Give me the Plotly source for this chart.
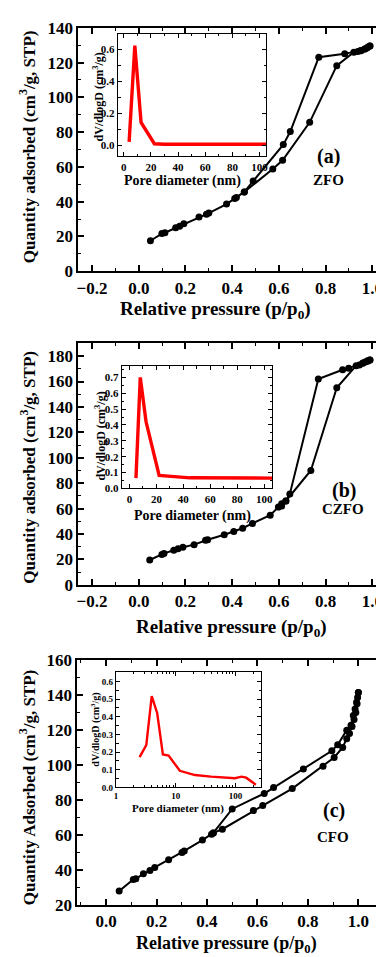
import plotly.graph_objects as go

# ---------------- data ----------------
# (a) ZFO
a_ads_x = [0.050, 0.099, 0.112, 0.158, 0.175, 0.193, 0.258, 0.290, 0.300, 0.376, 0.411, 0.418, 0.452,
           0.574, 0.616, 0.732, 0.848, 0.921, 0.938, 0.952, 0.966, 0.977, 0.990]
a_ads_y = [17.5, 21.6, 22.1, 24.9, 25.9, 27.2, 31.1, 32.8, 33.4, 38.6, 41.8, 42.4, 45.6,
           58.7, 63.8, 85.6, 118.2, 125.9, 126.3, 126.8, 127.6, 128.4, 129.5]
a_des_x = [0.990, 0.982, 0.970, 0.950, 0.882, 0.771, 0.649, 0.619, 0.490, 0.452]
a_des_y = [129.5, 129.0, 128.0, 127.0, 125.0, 123.1, 80.3, 72.8, 51.8, 45.6]
a_psd_x = [3.9, 8.1, 12.7, 22.5, 30, 105]
a_psd_y = [0.02, 0.625, 0.142, 0.008, 0.005, 0.005]

# (b) CZFO
b_ads_x = [0.047, 0.099, 0.108, 0.150, 0.168, 0.189, 0.237, 0.286, 0.295, 0.366, 0.407, 0.445, 0.487,
           0.563, 0.598, 0.612, 0.630, 0.737, 0.848, 0.931, 0.945, 0.959, 0.970, 0.980, 0.990]
b_ads_y = [19.5, 23.9, 24.7, 27.2, 28.3, 29.6, 31.6, 35.0, 35.5, 39.4, 41.9, 44.5, 48.3,
           54.8, 61.2, 63.7, 66.0, 90.0, 155.1, 172.5, 173.0, 174.4, 175.4, 176.4, 177.0]
b_des_x = [0.990, 0.980, 0.960, 0.899, 0.873, 0.769, 0.647, 0.630, 0.612]
b_des_y = [177.0, 176.0, 174.5, 170.5, 169.2, 162.0, 71.5, 66.0, 62.0]
b_psd_x = [4.8, 8.0, 12.3, 22.0, 31.0, 45.0, 106]
b_psd_y = [0.065, 0.70, 0.42, 0.082, 0.076, 0.067, 0.065]

# (c) CFO
c_ads_x = [0.052, 0.108, 0.118, 0.148, 0.174, 0.193, 0.248, 0.301, 0.310, 0.382, 0.418, 0.425, 0.461,
           0.584, 0.621, 0.738, 0.860, 0.904, 0.938, 0.954, 0.965, 0.975, 0.983, 0.990, 0.995, 1.000]
c_ads_y = [28.0, 34.6, 35.0, 37.8, 39.7, 41.5, 45.9, 50.0, 50.9, 57.1, 60.5, 61.2, 63.3,
           74.0, 76.8, 86.5, 99.3, 104.3, 110.0, 115.0, 118.0, 122.0, 126.0, 130.0, 135.0, 141.4]
c_des_x = [1.000, 0.997, 0.993, 0.987, 0.980, 0.971, 0.954, 0.918, 0.895, 0.782, 0.664, 0.627, 0.500, 0.425]
c_des_y = [141.4, 138.6, 135.8, 132.0, 128.3, 122.7, 119.9, 111.5, 108.1, 97.7, 87.1, 83.7, 74.9, 61.2]
c_psd_x = [2.49, 3.22, 3.97, 4.9, 6.1, 7.6, 11.7, 20.9, 38.9, 63, 97.5, 125, 150, 218]
c_psd_y = [0.171, 0.239, 0.517, 0.42, 0.186, 0.18, 0.094, 0.07, 0.061, 0.057, 0.052, 0.061, 0.055, 0.015]

# ---------------- figure ----------------
W, H = 384, 957
FONT = "Liberation Serif"

def px_x(p):
    return p / W

def px_y(p):
    return 1 - p / H

fig = go.Figure()

def iso(xa, ya, x, y):
    fig.add_trace(go.Scatter(x=x, y=y, xaxis=xa, yaxis=ya, mode="lines+markers",
                             line=dict(color="black", width=2),
                             marker=dict(color="black", size=7), showlegend=False))

def psd(xa, ya, x, y, w):
    fig.add_trace(go.Scatter(x=x, y=y, xaxis=xa, yaxis=ya, mode="lines",
                             line=dict(color="#ff0000", width=w), showlegend=False))

iso("x", "y", a_ads_x, a_ads_y)
iso("x", "y", a_des_x, a_des_y)
psd("x2", "y2", a_psd_x, a_psd_y, 3.4)
iso("x3", "y3", b_ads_x, b_ads_y)
iso("x3", "y3", b_des_x, b_des_y)
psd("x4", "y4", b_psd_x, b_psd_y, 3.4)
iso("x5", "y5", c_ads_x, c_ads_y)
iso("x5", "y5", c_des_x, c_des_y)
psd("x6", "y6", c_psd_x, c_psd_y, 2.4)

def tf(size):
    return dict(family=FONT, size=size, color="black", weight="bold")

def main_axis(domain, rng, dtick, minor_dtick, anchor, fmt=None):
    d = dict(domain=domain, range=rng, anchor=anchor, showline=True, linewidth=2, linecolor="black",
             mirror="allticks", ticks="inside", ticklen=6, tickwidth=1.5, tickcolor="black",
             dtick=dtick, tick0=0, showgrid=False, zeroline=False, tickfont=tf(17),
             ticklabeloverflow="allow",
             minor=dict(ticks="inside", ticklen=3, tickwidth=1.2, dtick=minor_dtick, tickcolor="black"))
    if fmt:
        d["tickformat"] = fmt
    return d

def inset_axis(domain, rng, dtick, minor_dtick, anchor, size, fmt=None, log=False):
    d = dict(domain=domain, range=rng, anchor=anchor, showline=True, linewidth=1.3, linecolor="black",
             mirror="allticks", ticks="inside", ticklen=4, tickwidth=1, tickcolor="black",
             showgrid=False, zeroline=False, tickfont=tf(size))
    if log:
        d["type"] = "log"
        d["dtick"] = 1
        d["minor"] = dict(ticks="inside", ticklen=2.5, tickwidth=0.8, tickcolor="black")
    else:
        d["dtick"] = dtick
        d["tick0"] = 0
        d["minor"] = dict(ticks="inside", ticklen=2.5, tickwidth=0.8, dtick=minor_dtick, tickcolor="black")
    if fmt:
        d["tickformat"] = fmt
    return d

layout = dict(width=W, height=H, margin=dict(l=0, r=0, t=0, b=0),
              paper_bgcolor="white", plot_bgcolor="white", showlegend=False)

# panel (a)
layout["xaxis"] = main_axis([px_x(69), px_x(380)], [-0.259, 1.059], 0.2, 0.1, "y", fmt=".1f")
layout["yaxis"] = main_axis([px_y(259.3), px_y(11)], [0, 140], 20, 10, "x")
layout["xaxis2"] = inset_axis([px_x(109), px_x(259)], [-4.4, 105], 20, 10, "y2", 11)
layout["yaxis2"] = inset_axis([px_y(142), px_y(17)], [-0.07, 0.70], 0.2, 0.1, "x2", 11, fmt=".1f")
# panel (b)
layout["xaxis3"] = main_axis([px_x(69), px_x(380)], [-0.259, 1.059], 0.2, 0.1, "y3", fmt=".1f")
layout["yaxis3"] = main_axis([px_y(579.3), px_y(333)], [0, 190], 20, 10, "x3")
layout["xaxis4"] = inset_axis([px_x(113), px_x(265)], [-5.7, 106], 20, 10, "y4", 11)
layout["yaxis4"] = inset_axis([px_y(481), px_y(356)], [0, 0.772], 0.1, 0.05, "x4", 11, fmt=".1f")
# panel (c)
layout["xaxis5"] = main_axis([px_x(68), px_x(377)], [-0.114, 1.098], 0.2, 0.1, "y5", fmt=".1f")
layout["yaxis5"] = main_axis([px_y(906), px_y(656)], [20, 160], 20, 10, "x5")
layout["xaxis6"] = inset_axis([px_x(107), px_x(254)], [0, 2.43], None, None, "y6", 9, log=True)
layout["yaxis6"] = inset_axis([px_y(786), px_y(668)], [0, 0.655], 0.1, 0.05, "x6", 9, fmt=".1f")

fig.update_layout(**layout)

def ann(text, x, y, size, angle=0):
    fig.add_annotation(text=text, x=px_x(x), y=px_y(y), xref="paper", yref="paper",
                       showarrow=False, textangle=angle, xanchor="center", yanchor="middle",
                       font=dict(family=FONT, size=size, color="black"))

# main y titles
ann("<b>Quantity adsorbed (cm<sup>3</sup>/g, STP)</b>", 18, 132, 17, -90)
ann("<b>Quantity adsorbed (cm<sup>3</sup>/g, STP)</b>", 18, 459, 17, -90)
ann("<b>Quantity Adsorbed (cm<sup>3</sup>/g, STP)</b>", 18, 786, 17, -90)
# main x titles
ann("<b>Relative pressure (p/p<sub>0</sub>)</b>", 208, 299, 19)
ann("<b>Relative pressure (p/p<sub>0</sub>)</b>", 224, 623, 19)
ann("<b>Relative pressure (p/p<sub>0</sub>)</b>", 219, 946, 18)
# inset titles
ann("<b>Pore diameter (nm)</b>", 174, 167, 14)
ann("<b>Pore diameter (nm)</b>", 184, 509, 14)
ann("<b>Pore diameter (nm)</b>", 170, 808, 11)
ann("<b>dV/dlogD (cm<sup>3</sup>/g)</b>", 89, 82, 12, -90)
ann("<b>dV/dlogD (cm<sup>3</sup>/g)</b>", 91, 428, 12, -90)
ann("<b>dV/dlogD (cm<sup>3</sup>/g)</b>", 86, 727, 10, -90)
# panel labels
ann("<b>(a)</b>", 322, 142, 20)
ann("<b>ZFO</b>", 322, 166, 15)
ann("<b>(b)</b>", 338, 483, 20)
ann("<b>CZFO</b>", 337, 502, 15)
ann("<b>(c)</b>", 327, 810, 20)
ann("<b>CFO</b>", 326, 837, 15)

fig.write_html("out.html")
